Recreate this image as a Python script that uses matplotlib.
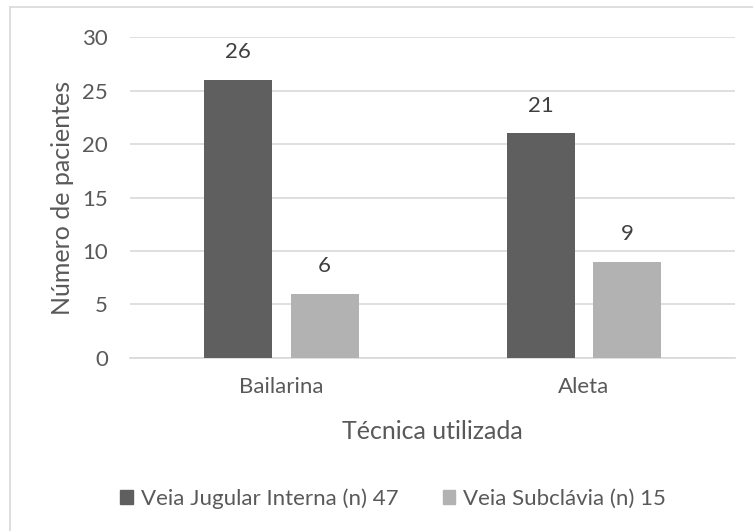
import matplotlib.pyplot as plt
from matplotlib.lines import Line2D
import numpy as np

plt.rcParams['font.family'] = ['Lato', 'DejaVu Sans']

# Data
categories = ['Bailarina', 'Aleta']
series_names = ['Veia Jugular Interna (n) 47', 'Veia Subclávia (n) 15']
jugular = [26, 21]
subclavia = [6, 9]

text_color = '#595959'
colors = ['#5f5f5f', '#b2b2b2']

fig = plt.figure(figsize=(7.53, 5.31), dpi=100)
ax = fig.add_axes([0.173, 0.326, 0.803, 0.604])

x = np.arange(len(categories))
width = 0.225
offset = 0.143

bars1 = ax.bar(x - offset, jugular, width, color=colors[0], label=series_names[0], zorder=3)
bars2 = ax.bar(x + offset, subclavia, width, color=colors[1], label=series_names[1], zorder=3)

for bars in (bars1, bars2):
    for b in bars:
        ax.text(b.get_x() + b.get_width() / 2, b.get_height() + 2.6, f'{int(b.get_height())}',
                ha='center', va='center', fontsize=16, color='#404040')

ax.set_xlim(-0.5, 1.5)
ax.set_ylim(0, 30)
ax.set_yticks(range(0, 31, 5))
ax.set_xticks(x)
ax.set_xticklabels(categories)
ax.tick_params(axis='both', length=0, labelsize=16, colors=text_color)
ax.tick_params(axis='x', pad=14)
ax.tick_params(axis='y', pad=16)

ax.grid(axis='y', color='#d9d9d9', linewidth=1.2, zorder=0)
for s in ['top', 'right', 'left']:
    ax.spines[s].set_visible(False)
ax.spines['bottom'].set_color('#d9d9d9')
ax.spines['bottom'].set_linewidth(1.2)

ax.set_ylabel('Número de pacientes', fontsize=18, color=text_color, labelpad=6)
ax.set_xlabel('Técnica utilizada', fontsize=18, color=text_color, labelpad=16)

handles = [plt.Rectangle((0, 0), 1, 1, color=c) for c in colors]
fig.legend(handles, series_names, loc='center', bbox_to_anchor=(0.522, 0.061), ncol=2,
           frameon=False, fontsize=16, labelcolor=text_color, handlelength=0.55,
           handleheight=0.55, handletextpad=0.36, columnspacing=2.0)

# chart border
fig.add_artist(Line2D([0.013, 1.0], [0.987, 0.987], color='#d9d9d9', linewidth=1.2))
fig.add_artist(Line2D([0.013, 0.013], [0.0, 0.987], color='#d9d9d9', linewidth=1.2))

plt.savefig('out.png', dpi=100)
